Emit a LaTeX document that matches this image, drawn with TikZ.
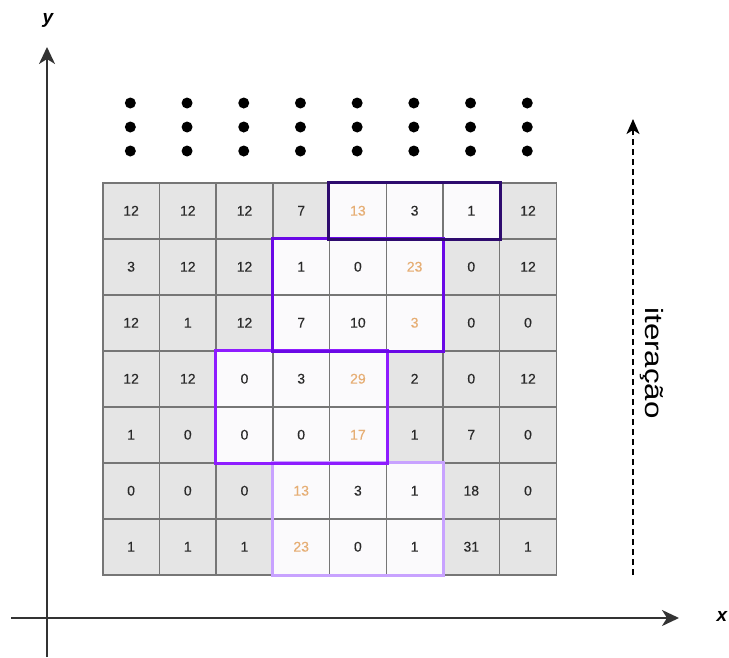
\documentclass[tikz,border=0pt]{standalone}
\usepackage{fontspec}
\setmainfont{Liberation Sans}
\newfontfamily\numfont[FakeBold=0.35]{Liberation Sans}
\usetikzlibrary{arrows.meta}

\definecolor{cellgray}{HTML}{E5E5E5}
\definecolor{cellline}{HTML}{767676}
\definecolor{cellwhite}{HTML}{FBFAFC}
\definecolor{numtext}{HTML}{2A2A2A}
\definecolor{hot}{HTML}{E6AE74}
\definecolor{axisgray}{HTML}{333333}
\definecolor{pathA}{HTML}{2E0B6E}
\definecolor{pathB}{HTML}{6A08E6}
\definecolor{pathC}{HTML}{8E1CFF}
\definecolor{pathD}{HTML}{C8A2FF}

\tikzset{
  cellbase/.style={draw=cellline, line width=1.5pt, minimum width=56.7pt,
    minimum height=56pt, inner sep=0pt, anchor=north west,
    font=\numfont\fontsize{14}{16}\selectfont},
  celln/.style={cellbase, fill=cellgray, text=numtext},
  cellw/.style={cellbase, fill=cellwhite, text=numtext},
  cellh/.style={cellbase, fill=cellwhite, text=hot},
  bullet/.style={circle, fill=black, minimum size=11pt, inner sep=0pt},
  axisline/.style={draw=axisgray, line width=2pt,
    -{Stealth[length=17pt, width=16pt, inset=5pt]}},
  iterline/.style={draw=black, line width=1.6pt, dash pattern=on 6pt off 4pt,
    -{Stealth[length=15pt, width=13pt, inset=4pt]}},
  region/.style={line width=3pt},
  axislabel/.style={font=\fontsize{19}{23}\selectfont\bfseries\itshape}
}

\begin{document}
\begin{tikzpicture}[x=1pt, y=-1pt]
\useasboundingbox (0,0) rectangle (729,657);

% value grid: n = plain cell, w = cell on a path, h = highlighted value on a path
\foreach \r/\vals in {
  0/{n/12,n/12,n/12,n/7,h/13,w/3,w/1,n/12},
  1/{n/3,n/12,n/12,w/1,w/0,h/23,n/0,n/12},
  2/{n/12,n/1,n/12,w/7,w/10,h/3,n/0,n/0},
  3/{n/12,n/12,w/0,w/3,h/29,n/2,n/0,n/12},
  4/{n/1,n/0,w/0,w/0,h/17,n/1,n/7,n/0},
  5/{n/0,n/0,n/0,h/13,w/3,w/1,n/18,n/0},
  6/{n/1,n/1,n/1,h/23,w/0,w/1,n/31,n/1}} {
  \foreach \t/\v [count=\c from 0] in \vals {
    \node[cell\t] (c-\r-\c) at ({102+56.7*\c}, {182+56*\r}) {\v};
  }
}

% paths through the grid, lightest first
\draw[region, pathD] (c-5-3.north west) rectangle (c-6-5.south east);
\draw[region, pathC] (c-3-2.north west) rectangle (c-4-4.south east);
\draw[region, pathB] (c-1-3.north west) rectangle (c-2-5.south east);
\draw[region, pathA] (c-0-4.north west) rectangle (c-0-6.south east);

% continuation dots above the grid
\foreach \i in {0,...,7} {
  \foreach \j/\yy in {0/103, 1/127, 2/151} {
    \node[bullet] (d-\i-\j) at ({130.35+56.7*\i}, \yy) {};
  }
}

% axes
\coordinate (ybot) at (47,657);
\coordinate (ytop) at (47,47);
\coordinate (xleft) at (11,618);
\coordinate (xright) at (679,618);
\draw[axisline] (ybot) -- (ytop);
\draw[axisline] (xleft) -- (xright);
\node[axislabel] (ylab) at (48,20) {y};
\node[axislabel] (xlab) at (722,616) {x};

% iteration direction
\coordinate (itbot) at (633,575);
\coordinate (ittop) at (633,119);
\draw[iterline] (itbot) -- (ittop);
\node[rotate=-90, inner sep=0pt] (itlab) at (652,363)
  {\scalebox{1.25}[1]{\fontsize{25}{30}\selectfont iteração}};
\end{tikzpicture}
\end{document}
